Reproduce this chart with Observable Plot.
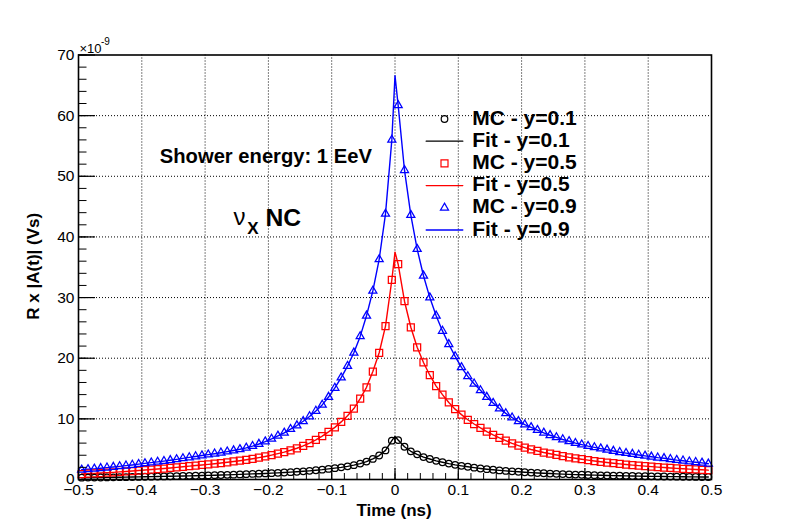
<!DOCTYPE html>
<html>
<head>
<meta charset="utf-8">
<script src="https://cdn.jsdelivr.net/npm/d3@7"></script>
<script src="https://cdn.jsdelivr.net/npm/@observablehq/plot@0.6"></script>
<style>
  html, body { margin: 0; padding: 0; background: white; }
</style>
</head>
<body>
<div id="chart"></div>
<script>
// ---- Data (values in units of 1e-9 V s) ----
const time = [
  -0.495,-0.485,-0.475,-0.465,-0.455,-0.445,-0.435,-0.425,-0.415,-0.405,
  -0.395,-0.385,-0.375,-0.365,-0.355,-0.345,-0.335,-0.325,-0.315,-0.305,
  -0.295,-0.285,-0.275,-0.265,-0.255,-0.245,-0.235,-0.225,-0.215,-0.205,
  -0.195,-0.185,-0.175,-0.165,-0.155,-0.145,-0.135,-0.125,-0.115,-0.105,
  -0.095,-0.085,-0.075,-0.065,-0.055,-0.045,-0.035,-0.025,-0.015,-0.005,
   0.005, 0.015, 0.025, 0.035, 0.045, 0.055, 0.065, 0.075, 0.085, 0.095,
   0.105, 0.115, 0.125, 0.135, 0.145, 0.155, 0.165, 0.175, 0.185, 0.195,
   0.205, 0.215, 0.225, 0.235, 0.245, 0.255, 0.265, 0.275, 0.285, 0.295,
   0.305, 0.315, 0.325, 0.335, 0.345, 0.355, 0.365, 0.375, 0.385, 0.395,
   0.405, 0.415, 0.425, 0.435, 0.445, 0.455, 0.465, 0.475, 0.485, 0.495
];

// MC - y=0.1 (black circles)
const mcY01 = [
  0.30,0.31,0.32,0.33,0.35,0.36,0.38,0.39,0.41,0.43,
  0.45,0.47,0.49,0.51,0.53,0.55,0.57,0.60,0.62,0.65,
  0.68,0.71,0.74,0.77,0.80,0.84,0.88,0.92,0.96,1.00,
  1.05,1.10,1.15,1.21,1.28,1.35,1.43,1.52,1.62,1.75,
  1.87,2.00,2.17,2.37,2.62,2.95,3.40,3.95,4.80,6.40,
  6.50,5.40,4.65,4.15,3.70,3.38,3.08,2.85,2.62,2.42,
  2.25,2.10,1.95,1.82,1.70,1.60,1.50,1.42,1.34,1.27,
  1.20,1.14,1.08,1.03,0.98,0.93,0.89,0.85,0.81,0.78,
  0.75,0.72,0.69,0.66,0.64,0.62,0.60,0.58,0.56,0.54,
  0.52,0.51,0.49,0.48,0.47,0.46,0.44,0.43,0.42,0.41
];

// MC - y=0.5 (red squares)
const mcY05 = [
  0.90,0.95,1.00,1.06,1.12,1.18,1.25,1.32,1.40,1.48,
  1.56,1.64,1.72,1.81,1.90,2.00,2.10,2.20,2.30,2.40,
  2.50,2.60,2.72,2.84,2.97,3.10,3.25,3.42,3.60,3.80,
  4.02,4.26,4.52,4.82,5.15,5.55,6.00,6.55,7.15,7.85,
  8.60,9.50,10.5,11.7,13.35,15.2,17.8,20.9,25.3,32.9,
  35.5,29.4,25.1,21.8,19.3,17.2,15.4,14.0,12.7,11.6,
  10.7,9.85,9.15,8.50,7.90,7.35,6.85,6.40,5.95,5.60,
  5.25,4.95,4.70,4.45,4.25,4.05,3.85,3.65,3.50,3.35,
  3.20,3.05,2.92,2.80,2.68,2.57,2.47,2.37,2.28,2.20,
  2.12,2.04,1.97,1.90,1.83,1.77,1.71,1.65,1.60,1.55
];

// MC - y=0.9 (blue triangles)
const mcY09 = [
  1.60,1.68,1.76,1.85,1.95,2.06,2.16,2.28,2.40,2.53,
  2.66,2.78,2.90,3.03,3.17,3.32,3.48,3.64,3.80,3.95,
  4.10,4.25,4.42,4.60,4.78,4.98,5.22,5.50,5.85,6.25,
  6.70,7.20,7.70,8.30,8.90,9.60,10.4,11.3,12.3,13.6,
  15.1,16.8,18.7,20.9,23.6,27.0,31.1,36.3,43.8,56.0,
  61.7,51.0,43.6,38.0,33.6,30.0,27.0,24.5,22.3,20.3,
  18.5,17.0,15.8,14.7,13.6,12.6,11.7,10.9,10.2,9.60,
  9.05,8.60,8.15,7.70,7.30,6.95,6.60,6.30,6.00,5.75,
  5.50,5.30,5.10,4.90,4.70,4.50,4.35,4.20,4.05,3.90,
  3.75,3.60,3.50,3.35,3.20,3.10,2.95,2.85,2.75,2.60
];

// Fit peak values at t = 0 (y=0.1, y=0.5, y=0.9)
const fitPeakTime = 0;
const fitPeak = [7.1, 37.5, 66.6];

const seriesNames = ["y=0.1", "y=0.5", "y=0.9"];
const seriesColors = ["black", "#ff0000", "#0000ff"];
const seriesSymbols = ["circle", "square", "triangle"];
const seriesR = [3.3, 3.95, 3.0];

const xMajorTicks = [-0.5,-0.4,-0.3,-0.2,-0.1,0,0.1,0.2,0.3,0.4,0.5];
const xGrid = [-0.4,-0.3,-0.2,-0.1,0,0.1,0.2,0.3,0.4];
const yMajorTicks = [0,10,20,30,40,50,60,70];
const yGrid = [10,20,30,40,50,60];

// ---- Build tables ----
const mcValues = [mcY01, mcY05, mcY09];
const mcData = mcValues.map(vals => time.map((t, i) => ({t, v: vals[i]})));
const fitData = mcValues.map((vals, k) => {
  const pts = time.map((t, i) => ({t, v: vals[i]}));
  pts.splice(50, 0, {t: fitPeakTime, v: fitPeak[k]});
  return pts;
});

// ---- Layout ----
const W = 788, H = 532;
const mL = 78, mR = 77, mT = 54.5, mB = 53;
const fw = W - mL - mR, fh = H - mT - mB;
const FONT = "'Liberation Sans', Arial, Helvetica, sans-serif";

const xMinor = d3.range(-0.5, 0.5001, 0.02);
const yMinor = d3.range(0, 70.001, 2);
const fmtX = d => d === 0 ? "0" : d3.format(".1f")(d);

const lineShape = {draw(context, l) { context.moveTo(0, 0); context.lineTo(0, -l); }};

const legendRows = [
  {kind: "mc", k: 0, label: "MC - y=0.1"},
  {kind: "fit", k: 0, label: "Fit - y=0.1"},
  {kind: "mc", k: 1, label: "MC - y=0.5"},
  {kind: "fit", k: 1, label: "Fit - y=0.5"},
  {kind: "mc", k: 2, label: "MC - y=0.9"},
  {kind: "fit", k: 2, label: "Fit - y=0.9"}
];
const legRow0 = 64, legStep = 22.2;

const legendMarks = [];
legendRows.forEach((row, i) => {
  const cy = legRow0 + i * legStep;
  if (row.kind === "mc") {
    legendMarks.push(Plot.dot([0], {frameAnchor: "top-left", dx: 366, dy: cy,
      symbol: seriesSymbols[row.k], r: seriesR[row.k], stroke: seriesColors[row.k], fill: "none", strokeWidth: 1.2}));
  } else {
    legendMarks.push(Plot.vector([0], {frameAnchor: "top-left", dx: 347.7, dy: cy, rotate: 90,
      length: 36.6, anchor: "start", shape: lineShape, stroke: seriesColors[row.k], strokeWidth: 1.3}));
  }
  legendMarks.push(Plot.text([row.label], {text: d => d, frameAnchor: "top-left", dx: 393.7, dy: cy + 5.5,
    textAnchor: "start", lineAnchor: "bottom", fontWeight: "bold", fontSize: 21, fill: "black"}));
});

const plot = Plot.plot({
  width: W, height: H,
  marginLeft: mL, marginRight: mR, marginTop: mT, marginBottom: mB,
  x: {domain: [-0.5, 0.5]},
  y: {domain: [0, 70]},
  style: {fontFamily: FONT, background: "white", color: "black", overflow: "visible"},
  marks: [
    // grid
    Plot.ruleX(xGrid, {stroke: "black", strokeWidth: 1, strokeDasharray: "1,2"}),
    Plot.ruleY(yGrid, {stroke: "black", strokeWidth: 1, strokeDasharray: "1,2"}),
    // fits
    ...fitData.map((d, k) => Plot.line(d, {x: "t", y: "v", stroke: seriesColors[k], strokeWidth: 1.4})),
    // MC points
    ...mcData.map((d, k) => Plot.dot(d, {x: "t", y: "v", symbol: seriesSymbols[k], r: seriesR[k],
      stroke: seriesColors[k], fill: "none", strokeWidth: 1.25})),
    // frame
    Plot.frame({stroke: "black", strokeWidth: 1.6}),
    // inward ticks
    Plot.tickX(xMinor, {x: d => d, insetTop: fh - 6, stroke: "black", strokeWidth: 1}),
    Plot.tickX(xMajorTicks, {x: d => d, insetTop: fh - 11, stroke: "black", strokeWidth: 1.2}),
    Plot.tickY(yMinor, {y: d => d, insetRight: fw - 8.5, stroke: "black", strokeWidth: 1}),
    Plot.tickY(yMajorTicks, {y: d => d, insetRight: fw - 17, stroke: "black", strokeWidth: 1.2}),
    // tick labels
    Plot.axisX(xMajorTicks, {tickSize: 0, tickPadding: 4, fontSize: 15.5, tickFormat: fmtX, label: null}),
    Plot.axisY(yMajorTicks, {tickSize: 0, tickPadding: 4, fontSize: 15.5, tickFormat: d => String(d), label: null}),
    // exponent
    Plot.text(["\u00d710"], {text: d => d, frameAnchor: "top-left", dx: 1, dy: -1.8, textAnchor: "start", lineAnchor: "bottom", fontSize: 13}),
    Plot.text(["-9"], {text: d => d, frameAnchor: "top-left", dx: 22.5, dy: -10, textAnchor: "start", lineAnchor: "bottom", fontSize: 10}),
    // axis titles
    Plot.text(["Time (ns)"], {text: d => d, frameAnchor: "bottom", dx: -1, dy: 36, textAnchor: "middle", lineAnchor: "bottom", fontWeight: "bold", fontSize: 17}),
    Plot.text(["R x |A(t)| (Vs)"], {text: d => d, frameAnchor: "left", dx: -45, dy: -1, rotate: -90, textAnchor: "middle", lineAnchor: "middle", fontWeight: "bold", fontSize: 17}),
    // annotations
    Plot.text(["Shower energy: 1 EeV"], {text: d => d, frameAnchor: "top-left", dx: 81.3, dy: 107.8, textAnchor: "start", lineAnchor: "bottom", fontWeight: "bold", fontSize: 20.2}),
    Plot.text(["\u03bd"], {text: d => d, frameAnchor: "top-left", dx: 155, dy: 169.5, textAnchor: "start", lineAnchor: "bottom", fontSize: 24}),
    Plot.text(["X"], {text: d => d, frameAnchor: "top-left", dx: 168.7, dy: 178.5, textAnchor: "start", lineAnchor: "bottom", fontWeight: "bold", fontSize: 17}),
    Plot.text(["NC"], {text: d => d, frameAnchor: "top-left", dx: 187, dy: 171.2, textAnchor: "start", lineAnchor: "bottom", fontWeight: "bold", fontSize: 24.7}),
    // legend
    ...legendMarks
  ]
});
document.getElementById("chart").appendChild(plot);
</script>
</body>
</html>
